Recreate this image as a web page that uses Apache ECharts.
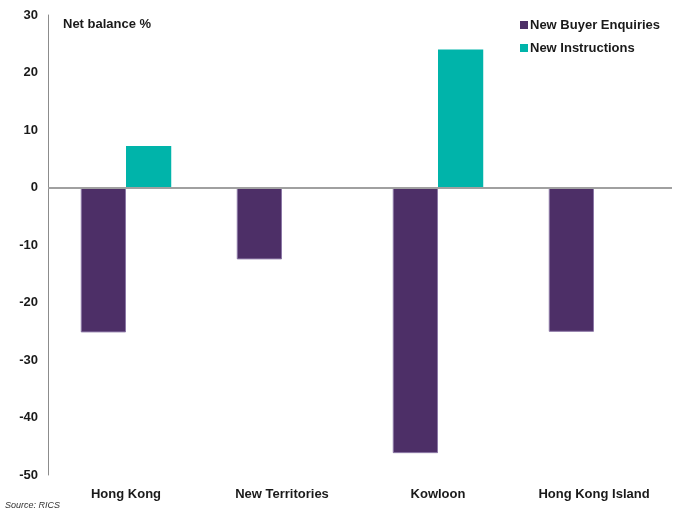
<!DOCTYPE html>
<html>
<head>
<meta charset="utf-8">
<style>
  html, body { margin: 0; padding: 0; background: #fff; }
  #chart { width: 682px; height: 511px; }
</style>
<script src="https://cdn.jsdelivr.net/npm/echarts@6/dist/echarts.min.js"></script>
</head>
<body>
<div id="chart"></div>
<script>
// Regional balances, Hong Kong
const categories = ['Hong Kong', 'New Territories', 'Kowloon', 'Hong Kong Island'];
const buyerEnquiries = [-25.2, -12.5, -46.2, -25.1];
const newInstructions = [7.2, 0, 24.0, 0];
const yTicks = { min: -50, max: 30, interval: 10 };

const FONT = '"Liberation Sans", Arial, sans-serif';
const PURPLE = '#4d2f67';
const TEAL = '#00b4aa';

const chart = echarts.init(document.getElementById('chart'));
chart.setOption({
  backgroundColor: '#ffffff',
  animation: false,
  textStyle: { fontFamily: FONT },
  grid: { left: 48, right: 10, top: 15, bottom: 36 },
  title: [
    {
      text: 'Net balance %', left: 58, top: 13,
      textStyle: { fontFamily: FONT, fontSize: 13, fontWeight: 'bold', color: '#1a1a1a' }
    },
    {
      text: 'Source: RICS', left: 0, top: 496,
      textStyle: { fontFamily: FONT, fontSize: 9, fontStyle: 'italic', fontWeight: 'normal', color: '#333' }
    }
  ],
  legend: {
    orient: 'vertical', left: 515, top: 13, itemGap: 9,
    itemWidth: 8, itemHeight: 8, icon: 'rect',
    itemStyle: { borderWidth: 0 },
    textStyle: { fontFamily: FONT, fontSize: 13, fontWeight: 'bold', color: '#1a1a1a', lineHeight: 14, padding: [0, 0, 0, -3] },
    data: ['New Buyer Enquiries', 'New Instructions']
  },
  xAxis: {
    type: 'category', data: categories, position: 'bottom',
    axisLine: { show: false }, axisTick: { show: false },
    axisLabel: { fontFamily: FONT, fontSize: 13, fontWeight: 'bold', color: '#1a1a1a', margin: 13 }
  },
  yAxis: {
    type: 'value', min: yTicks.min, max: yTicks.max, interval: yTicks.interval,
    axisLine: { show: true, lineStyle: { color: '#8c8c8c', width: 1 } },
    axisTick: { show: false },
    splitLine: { show: false },
    axisLabel: { fontFamily: FONT, fontSize: 13, fontWeight: 'bold', color: '#1a1a1a', margin: 10 }
  },
  series: [
    {
      name: 'New Buyer Enquiries', type: 'bar', data: buyerEnquiries,
      barGap: '0%', barCategoryGap: '42%',
      itemStyle: { color: PURPLE, borderColor: '#8c78a6', borderWidth: 1 },
      // zero baseline across the plot
      markLine: {
        silent: true, symbol: 'none', label: { show: false },
        lineStyle: { color: '#a0a0a0', width: 2, type: 'solid' },
        data: [{ yAxis: 0 }]
      }
    },
    {
      name: 'New Instructions', type: 'bar', data: newInstructions,
      barGap: '0%', barCategoryGap: '42%',
      itemStyle: { color: TEAL, borderWidth: 0 }
    }
  ]
});
</script>
</body>
</html>
